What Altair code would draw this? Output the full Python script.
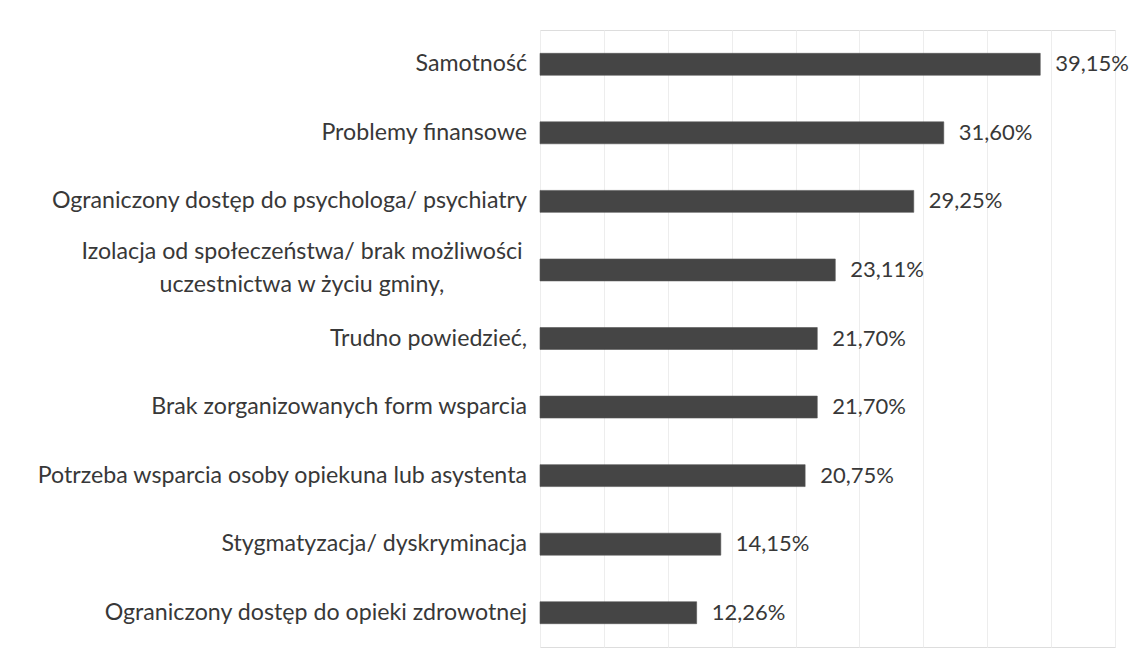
import altair as alt
import pandas as pd

categories = [
    "Samotność",
    "Problemy finansowe",
    "Ograniczony dostęp do psychologa/ psychiatry",
    "Izolacja od społeczeństwa/ brak możliwości|uczestnictwa w życiu gminy,",
    "Trudno powiedzieć,",
    "Brak zorganizowanych form wsparcia",
    "Potrzeba wsparcia osoby opiekuna lub asystenta",
    "Stygmatyzacja/ dyskryminacja",
    "Ograniczony dostęp do opieki zdrowotnej",
]
values = [39.15, 31.60, 29.25, 23.11, 21.70, 21.70, 20.75, 14.15, 12.26]
grid_ticks = [0, 5, 10, 15, 20, 25, 30, 35, 40, 45]

df = pd.DataFrame({
    "cat": categories,
    "val": values,
    "label": [f"{v:.2f}".replace(".", ",") + "%" for v in values],
    "multi": ["|" in c for c in categories],
})

FONT = "Lato"
TXT = "#383838"
FS = 23.2

yenc = alt.Y("cat:N", sort=categories, axis=None,
             scale=alt.Scale(paddingInner=0.68, paddingOuter=0.34))
xscale = alt.Scale(domain=[0, 45], nice=False)

base = alt.Chart(df)

bars = base.mark_bar(color="#454545", stroke="#555555", strokeWidth=0.6).encode(
    x=alt.X("val:Q", scale=xscale,
            axis=alt.Axis(values=grid_ticks, labels=False, ticks=False, domain=False,
                          title=None, grid=True, gridColor="#ededed", gridWidth=1)),
    y=yenc,
)

vals = base.mark_text(align="left", baseline="middle", dx=15, font=FONT,
                      fontSize=22, color=TXT).encode(
    x=alt.X("val:Q", scale=xscale), y=yenc, text="label:N")

single = base.transform_filter("!datum.multi").mark_text(
    align="right", baseline="middle", font=FONT, fontSize=FS, color=TXT, dx=-13
).encode(x=alt.value(0), y=yenc, text="cat:N")

multi = base.transform_filter("datum.multi").mark_text(
    align="center", baseline="middle", font=FONT, fontSize=FS, color=TXT,
    lineBreak="|", lineHeight=33, dx=-238, dy=-18
).encode(x=alt.value(0), y=yenc, text="cat:N")

chart = alt.layer(bars, vals, single, multi).properties(
    width=575, height=617,
    autosize=alt.AutoSizeParams(type="none"),
    padding={"left": 532, "top": 22, "right": 17, "bottom": 12},
).configure_view(stroke=None).configure_axis(domain=False).configure(background="white")

chart.save("out.html", embed_options={"renderer": "svg", "actions": False})
